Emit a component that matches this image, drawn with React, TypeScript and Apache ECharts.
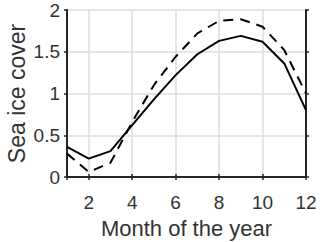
import React, { useEffect, useRef } from "react";
import * as echarts from "echarts";

const months = [1, 2, 3, 4, 5, 6, 7, 8, 9, 10, 11, 12];
const solidValues = [0.36, 0.22, 0.31, 0.62, 0.93, 1.22, 1.47, 1.63, 1.69, 1.62, 1.36, 0.8];
const dashedValues = [0.28, 0.06, 0.17, 0.66, 1.1, 1.44, 1.72, 1.87, 1.89, 1.8, 1.52, 1.0];
const xLabel = "Month of the year";
const yLabel = "Sea ice cover";

const AXIS = "#262626";
const TEXT = "#333333";
const GRID = "#dcdcdc";
const FONT = "Liberation Sans";

export default function App() {
  const ref = useRef<HTMLDivElement>(null);
  useEffect(() => {
    if (!ref.current) return;
    const chart = echarts.init(ref.current, null, { renderer: "svg" });
    const pair = (vals: number[]) => months.map((m, i) => [m, vals[i]]);
    const tick = { show: true, inside: false, length: 3, lineStyle: { color: AXIS, width: 1.5 } };
    const baseX = {
      type: "value",
      min: 1,
      max: 12,
      splitNumber: 6,
      axisLine: { show: true, lineStyle: { color: AXIS, width: 2 } },
      axisTick: tick,
    };
    const baseY = {
      type: "value",
      min: 0,
      max: 2,
      interval: 0.5,
      axisLine: { show: true, lineStyle: { color: AXIS, width: 2 } },
      axisTick: tick,
    };
    chart.setOption({
      animation: false,
      grid: { left: 67, top: 10, right: 14, bottom: 65, containLabel: false, outerBoundsMode: "none" },
      xAxis: [
        {
          ...baseX,
          position: "bottom",
          name: xLabel,
          nameLocation: "middle",
          nameGap: 40,
          nameTextStyle: { color: TEXT, fontFamily: FONT, fontSize: 22 },
          axisLabel: {
            color: TEXT,
            fontFamily: FONT,
            fontSize: 19,
            margin: 16,
            formatter: (v: number) => (v % 2 === 0 ? String(v) : ""),
          },
          splitLine: { show: true, lineStyle: { color: GRID, width: 1.5 } },
        },
        {
          ...baseX,
          position: "top",
          axisLabel: { show: false },
          splitLine: { show: false },
        },
      ],
      yAxis: [
        {
          ...baseY,
          position: "left",
          name: yLabel,
          nameLocation: "middle",
          nameGap: 39,
          nameMoveOverlap: false,
          nameTextStyle: { color: TEXT, fontFamily: FONT, fontSize: 23 },
          axisLabel: { color: TEXT, fontFamily: FONT, fontSize: 19, margin: 7 },
          splitLine: { show: true, lineStyle: { color: GRID, width: 1.5 } },
        },
        {
          ...baseY,
          position: "right",
          axisLabel: { show: false },
          splitLine: { show: false },
        },
      ],
      series: [
        {
          type: "line",
          data: pair(solidValues),
          showSymbol: false,
          lineStyle: { color: "#000", width: 2 },
          z: 3,
        },
        {
          type: "line",
          data: pair(dashedValues),
          showSymbol: false,
          lineStyle: { color: "#000", width: 2, type: [10, 7] },
          z: 3,
        },
      ],
    });
    return () => chart.dispose();
  }, []);
  return <div ref={ref} style={{ width: 320, height: 242, position: "absolute", left: 0, top: 0 }} />;
}
